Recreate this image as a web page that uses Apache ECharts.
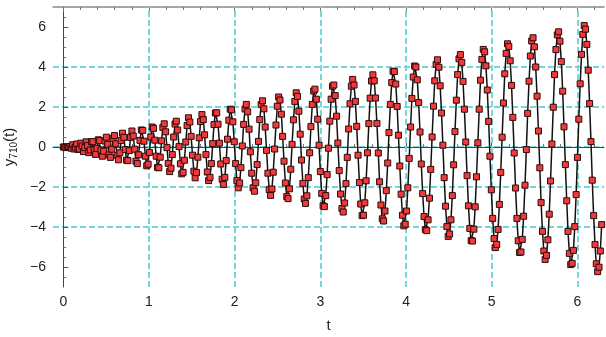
<!DOCTYPE html>
<html>
<head>
<meta charset="utf-8">
<script src="https://cdn.jsdelivr.net/npm/echarts@6/dist/echarts.min.js"></script>
<style>
  html, body { margin: 0; padding: 0; background: #fff; }
  #main { width: 606px; height: 337px; }
</style>
</head>
<body>
<div id="main"></div>
<script>
// sample times (t) and values
var tValues = [
  0, 0.016, 0.031, 0.047, 0.063, 0.079, 0.094, 0.110, 0.126, 0.141,
  0.157, 0.173, 0.188, 0.204, 0.220, 0.236, 0.251, 0.267, 0.283, 0.298,
  0.314, 0.330, 0.346, 0.361, 0.377, 0.393, 0.408, 0.424, 0.440, 0.456,
  0.471, 0.487, 0.503, 0.518, 0.534, 0.550, 0.565, 0.581, 0.597, 0.613,
  0.628, 0.644, 0.660, 0.675, 0.691, 0.707, 0.723, 0.738, 0.754, 0.770,
  0.785, 0.801, 0.817, 0.833, 0.848, 0.864, 0.880, 0.895, 0.911, 0.927,
  0.942, 0.958, 0.974, 0.990, 1.005, 1.021, 1.037, 1.052, 1.068, 1.084,
  1.100, 1.115, 1.131, 1.147, 1.162, 1.178, 1.194, 1.210, 1.225, 1.241,
  1.257, 1.272, 1.288, 1.304, 1.319, 1.335, 1.351, 1.367, 1.382, 1.398,
  1.414, 1.429, 1.445, 1.461, 1.477, 1.492, 1.508, 1.524, 1.539, 1.555,
  1.571, 1.587, 1.602, 1.618, 1.634, 1.649, 1.665, 1.681, 1.696, 1.712,
  1.728, 1.744, 1.759, 1.775, 1.791, 1.806, 1.822, 1.838, 1.854, 1.869,
  1.885, 1.901, 1.916, 1.932, 1.948, 1.963, 1.979, 1.995, 2.011, 2.026,
  2.042, 2.058, 2.073, 2.089, 2.105, 2.121, 2.136, 2.152, 2.168, 2.183,
  2.199, 2.215, 2.231, 2.246, 2.262, 2.278, 2.293, 2.309, 2.325, 2.341,
  2.356, 2.372, 2.388, 2.403, 2.419, 2.435, 2.450, 2.466, 2.482, 2.498,
  2.513, 2.529, 2.545, 2.560, 2.576, 2.592, 2.608, 2.623, 2.639, 2.655,
  2.670, 2.686, 2.702, 2.718, 2.733, 2.749, 2.765, 2.780, 2.796, 2.812,
  2.827, 2.843, 2.859, 2.875, 2.890, 2.906, 2.922, 2.937, 2.953, 2.969,
  2.985, 3.000, 3.016, 3.032, 3.047, 3.063, 3.079, 3.094, 3.110, 3.126,
  3.142, 3.157, 3.173, 3.189, 3.204, 3.220, 3.236, 3.252, 3.267, 3.283,
  3.299, 3.314, 3.330, 3.346, 3.362, 3.377, 3.393, 3.409, 3.424, 3.440,
  3.456, 3.471, 3.487, 3.503, 3.519, 3.534, 3.550, 3.566, 3.581, 3.597,
  3.613, 3.629, 3.644, 3.660, 3.676, 3.691, 3.707, 3.723, 3.738, 3.754,
  3.770, 3.786, 3.801, 3.817, 3.833, 3.848, 3.864, 3.880, 3.896, 3.911,
  3.927, 3.943, 3.958, 3.974, 3.990, 4.006, 4.021, 4.037, 4.053, 4.068,
  4.084, 4.100, 4.115, 4.131, 4.147, 4.163, 4.178, 4.194, 4.210, 4.225,
  4.241, 4.257, 4.273, 4.288, 4.304, 4.320, 4.335, 4.351, 4.367, 4.383,
  4.398, 4.414, 4.430, 4.445, 4.461, 4.477, 4.492, 4.508, 4.524, 4.540,
  4.555, 4.571, 4.587, 4.602, 4.618, 4.634, 4.650, 4.665, 4.681, 4.697,
  4.712, 4.728, 4.744, 4.760, 4.775, 4.791, 4.807, 4.822, 4.838, 4.854,
  4.869, 4.885, 4.901, 4.917, 4.932, 4.948, 4.964, 4.979, 4.995, 5.011,
  5.027, 5.042, 5.058, 5.074, 5.089, 5.105, 5.121, 5.137, 5.152, 5.168,
  5.184, 5.199, 5.215, 5.231, 5.246, 5.262, 5.278, 5.294, 5.309, 5.325,
  5.341, 5.356, 5.372, 5.388, 5.404, 5.419, 5.435, 5.451, 5.466, 5.482,
  5.498, 5.513, 5.529, 5.545, 5.561, 5.576, 5.592, 5.608, 5.623, 5.639,
  5.655, 5.671, 5.686, 5.702, 5.718, 5.733, 5.749, 5.765, 5.781, 5.796,
  5.812, 5.828, 5.843, 5.859, 5.875, 5.890, 5.906, 5.922, 5.938, 5.953,
  5.969, 5.985, 6.000, 6.016, 6.032, 6.048, 6.063, 6.079, 6.095, 6.110,
  6.126, 6.142, 6.158, 6.173, 6.189, 6.205, 6.220, 6.236, 6.252, 6.267,
  6.283
];
var yValues = [
  0, 0, -0.03, 0.01, 0, 0.02, -0.06, 0.11, -0.10, -0.01,
  0.15, -0.12, -0.10, 0.19, 0.05, -0.23, -0.03, 0.26, 0.07, -0.28,
  -0.15, 0.26, 0.27, -0.15, -0.37, -0.07, 0.36, 0.32, -0.15, -0.46,
  -0.21, 0.30, 0.49, 0.13, -0.39, -0.52, -0.11, 0.43, 0.57, 0.16,
  -0.42, -0.64, -0.29, 0.33, 0.69, 0.48, -0.13, -0.66, -0.68, -0.18,
  0.48, 0.80, 0.55, -0.11, -0.71, -0.83, -0.39, 0.33, 0.85, 0.83,
  0.29, -0.46, -0.94, -0.86, -0.27, 0.50, 1.00, 0.93, 0.34, -0.46,
  -1.02, -1.04, -0.51, 0.31, 0.98, 1.16, 0.76, -0.03, -0.82, -1.23,
  -1.06, -0.38, 0.50, 1.15, 1.29, 0.85, 0.02, -0.84, -1.34, -1.27,
  -0.66, 0.25, 1.07, 1.46, 1.25, 0.53, -0.41, -1.21, -1.54, -1.28,
  -0.51, 0.46, 1.27, 1.62, 1.37, 0.61, -0.38, -1.25, -1.68, -1.52,
  -0.83, 0.17, 1.12, 1.70, 1.71, 1.14, 0.19, -0.85, -1.61, -1.87,
  -1.52, -0.68, 0.39, 1.34, 1.89, 1.86, 1.26, 0.26, -0.83, -1.68,
  -2.04, -1.80, -1.03, 0.05, 1.13, 1.90, 2.13, 1.76, 0.89, -0.24,
  -1.31, -2.04, -2.21, -1.79, -0.88, 0.28, 1.37, 2.12, 2.31, 1.91,
  1.00, -0.17, -1.31, -2.13, -2.42, -2.10, -1.26, -0.10, 1.10, 2.04,
  2.50, 2.35, 1.64, 0.53, -0.71, -1.80, -2.48, -2.58, -2.09, -1.11,
  0.13, 1.36, 2.28, 2.71, 2.53, 1.79, 0.64, -0.65, -1.82, -2.60,
  -2.82, -2.44, -1.53, -0.29, 1.02, 2.13, 2.80, 2.89, 2.39, 1.39,
  0.09, -1.23, -2.32, -2.94, -2.98, -2.43, -1.38, -0.06, 1.29, 2.39,
  3.04, 3.10, 2.57, 1.54, 0.20, -1.18, -2.35, -3.08, -3.25, -2.80,
  -1.83, -0.52, 0.90, 2.16, 3.04, 3.38, 3.10, 2.28, 1.03, -0.41,
  -1.78, -2.85, -3.43, -3.41, -2.79, -1.69, -0.29, 1.17, 2.44, 3.30,
  3.61, 3.31, 2.45, 1.18, -0.30, -1.74, -2.90, -3.59, -3.70, -3.20,
  -2.18, -0.80, 0.72, 2.13, 3.22, 3.79, 3.77, 3.15, 2.03, 0.59,
  -0.95, -2.36, -3.41, -3.94, -3.86, -3.20, -2.04, -0.57, 1.00, 2.43,
  3.50, 4.05, 4.00, 3.36, 2.22, 0.75, -0.85, -2.33, -3.48, -4.13,
  -4.18, -3.64, -2.56, -1.12, 0.50, 2.04, 3.31, 4.13, 4.36, 3.99,
  3.06, 1.70, 0.09, -1.53, -2.96, -3.98, -4.47, -4.35, -3.64, -2.43,
  -0.89, 0.77, 2.34, 3.62, 4.41, 4.62, 4.23, 3.28, 1.89, 0.25,
  -1.43, -2.94, -4.07, -4.68, -4.70, -4.11, -2.99, -1.49, 0.21, 1.89,
  3.34, 4.38, 4.88, 4.76, 4.06, 2.85, 1.28, -0.46, -2.14, -3.57,
  -4.58, -5.03, -4.87, -4.12, -2.87, -1.27, 0.49, 2.20, 3.66, 4.68,
  5.16, 5.03, 4.31, 3.08, 1.48, -0.30, -2.05, -3.57, -4.69, -5.27,
  -5.25, -4.62, -3.46, -1.91, -0.13, 1.68, 3.29, 4.55, 5.30, 5.46,
  5.01, 4.00, 2.54, 0.80, -1.04, -2.78, -4.22, -5.20, -5.62, -5.42,
  -4.64, -3.36, -1.70, 0.15, 1.99, 3.62, 4.87, 5.61, 5.76, 5.29,
  4.27, 2.79, 1.01, -0.88, -2.69, -4.22, -5.32, -5.88, -5.82, -5.17,
  -3.98, -2.38, -0.52, 1.39, 3.16, 4.63, 5.63, 6.07, 5.89, 5.13,
  3.84, 2.17, 0.27, -1.66, -3.43, -4.88, -5.84, -6.23, -6.01, -5.20,
  -3.88
];
var xTicks = [0, 1, 2, 3, 4, 5, 6];
var yTicks = [-6, -4, -2, 0, 2, 4, 6];

var X_MIN = -0.12, X_MAX = 6.31;
var Y_MIN = -7, Y_MAX = 7;
var FONT = 'Liberation Sans, Arial, sans-serif';
var GRID_COLOR = '#74d8d8';

// minor tick positions (every 0.2 on t, every 0.5 on y)
var xMinor = [];
for (var i = 1; i <= 31; i++) {
    if (i % 5 !== 0) xMinor.push(+(i * 0.2).toFixed(1));
}
var yMinor = [];
for (var j = -13; j <= 13; j++) {
    if (j % 4 !== 0) yMinor.push(j * 0.5);
}

var points = [];
for (var k = 0; k < tValues.length; k++) {
    points.push([tValues[k], yValues[k]]);
}

function minorAxis(pos, values) {
    return {
        type: 'value', position: pos, min: X_MIN, max: X_MAX,
        axisLine: {show: false},
        axisLabel: {show: false},
        splitLine: {show: false},
        axisTick: {inside: true, length: 3, customValues: values,
            lineStyle: {color: '#777', width: 1}}
    };
}

var chart = echarts.init(document.getElementById('main'), null, {renderer: 'canvas'});
var option = {
    animation: false,
    backgroundColor: '#fff',
    grid: {left: 53, right: 2, top: 7, bottom: 50, containLabel: false, outerBoundsMode: 'none'},
    xAxis: [
        {
            type: 'value', position: 'bottom', min: X_MIN, max: X_MAX,
            name: 't', nameLocation: 'middle', nameGap: 31,
            nameTextStyle: {fontFamily: FONT, fontSize: 15, color: '#222'},
            axisLine: {lineStyle: {color: '#444', width: 1}},
            axisTick: {inside: true, length: 5, customValues: xTicks,
                lineStyle: {color: '#555', width: 1}},
            axisLabel: {customValues: xTicks, margin: 8,
                fontFamily: FONT, fontSize: 14, color: '#222'},
            splitLine: {show: false}
        },
        minorAxis('bottom', xMinor),
        {
            type: 'value', position: 'top', min: X_MIN, max: X_MAX,
            axisLine: {lineStyle: {color: '#888', width: 1.5}},
            axisTick: {inside: true, length: 5, customValues: xTicks,
                lineStyle: {color: '#777', width: 1}},
            axisLabel: {show: false},
            splitLine: {show: false}
        },
        minorAxis('top', xMinor)
    ],
    yAxis: [
        {
            type: 'value', position: 'left', min: Y_MIN, max: Y_MAX, splitNumber: 7,
            name: '{m|y}{s|710}{m|(t)}', nameLocation: 'middle', nameGap: 26,
            nameTextStyle: {
                rich: {
                    m: {fontFamily: FONT, fontSize: 15, color: '#222', lineHeight: 18},
                    s: {fontFamily: FONT, fontSize: 10, color: '#222', lineHeight: 10,
                        verticalAlign: 'bottom', padding: [9, 0, 0, 0]}
                }
            },
            axisLine: {lineStyle: {color: '#444', width: 1}},
            axisTick: {inside: true, length: 5, customValues: yTicks,
                lineStyle: {color: '#555', width: 1}},
            axisLabel: {customValues: yTicks, margin: 7,
                fontFamily: FONT, fontSize: 14, color: '#222',
                formatter: function (v) { return String(v).replace('-', '\u2212'); }},
            splitLine: {show: true, showMinLine: false, showMaxLine: false,
                lineStyle: {color: GRID_COLOR, type: [6, 3], width: 2}}
        },
        {
            type: 'value', position: 'left', min: Y_MIN, max: Y_MAX,
            axisLine: {show: false},
            axisLabel: {show: false},
            splitLine: {show: false},
            axisTick: {inside: true, length: 3, customValues: yMinor,
                lineStyle: {color: '#777', width: 1}}
        }
    ],
    series: [
        {
            // vertical grid lines
            type: 'line', data: [], xAxisIndex: 0, yAxisIndex: 0, silent: true,
            markLine: {
                silent: true, symbol: 'none', z: 1, animation: false,
                label: {show: false},
                lineStyle: {color: GRID_COLOR, type: [6, 3], width: 2},
                data: xTicks.slice(1).map(function (v) { return {xAxis: v}; })
            }
        },
        {
            name: 'y710', type: 'line', z: 3,
            xAxisIndex: 0, yAxisIndex: 0,
            data: points,
            symbol: 'rect', symbolSize: 6, showSymbol: true, showAllSymbol: true,
            lineStyle: {color: '#111', width: 1.5},
            itemStyle: {color: '#f2393c', borderColor: '#2b0b0b', borderWidth: 1}
        }
    ]
};
chart.setOption(option);
</script>
</body>
</html>
